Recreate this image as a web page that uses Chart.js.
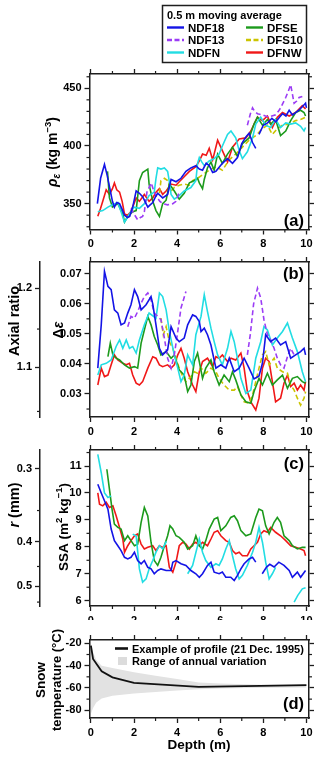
<!DOCTYPE html>
<html>
<head>
<meta charset="utf-8">
<script src="https://cdn.jsdelivr.net/npm/chart.js@4.4.1/dist/chart.umd.min.js"></script>
<style>
  html, body { margin: 0; padding: 0; background: #fff; }
  #wrap { position: relative; width: 320px; height: 757px; overflow: hidden; }
  canvas { position: absolute; left: 0; }
</style>
</head>
<body>
<div id="wrap">
  <canvas id="panelA" width="320" height="250" style="top:0px"></canvas>
  <canvas id="panelB" width="320" height="188" style="top:250px"></canvas>
  <canvas id="panelC" width="320" height="182" style="top:438px"></canvas>
  <canvas id="panelD" width="320" height="137" style="top:620px"></canvas>
</div>
<script>
// ---- series ----
const seriesNames = ['NDF18', 'NDF13', 'NDFN', 'DFSE', 'DFS10', 'DFNW'];
const seriesColors = ['#1414e6', '#9b3cf5', '#22dde3', '#1c9a1c', '#cbc400', '#f01818'];
const seriesDashed = [false, true, false, false, true, false];

// ---- depth axis ----
const depthMajor = [0, 2, 4, 6, 8, 10];
const depthMinor = [1, 3, 5, 7, 9];

// ---- (a) density, [depth m, kg m-3] ----
const rhoNDF18 = [[0.3,350],[0.45,372],[0.63,384],[0.75,375],[0.86,365],[1.0,352],[1.09,347],[1.2,351],[1.33,350],[1.45,345],[1.56,340],[1.7,338],[1.8,339],[1.94,347],[2.1,361],[2.25,359],[2.4,356],[2.48,353],[2.64,347],[2.75,349],[2.87,351],[3.0,356],[3.1,359],[3.33,355],[3.56,358],[3.72,371],[3.95,369],[4.18,372],[4.41,378],[4.64,381],[4.87,383],[5.03,380],[5.18,379],[5.35,385],[5.49,383],[5.65,377],[5.8,378],[6.1,385],[6.34,389],[6.57,385],[6.8,390],[7.0,402],[7.2,408],[7.34,411],[7.5,403],[7.65,398],[7.72,null],[7.8,410],[8.0,418],[8.2,420],[8.4,424],[8.58,421],[8.75,425],[8.89,428],[9.05,426],[9.2,431],[9.35,427],[9.5,429],[9.65,431],[9.81,434],[9.96,437],[10.0,433]];
const rhoNDF13 = [[1.86,346],[2.0,341],[2.17,336],[2.3,338],[2.4,339],[2.48,343],[2.6,360],[2.8,368],[2.9,362],[3.02,357],[3.2,352],[3.33,350],[3.56,349],[3.8,350],[3.95,352],[4.1,360],[4.15,null],[7.26,418],[7.4,428],[7.5,433],[7.6,430],[7.73,428],[7.96,427],[8.1,426],[8.27,425],[8.4,426],[8.57,427],[8.7,430],[8.8,433],[9.04,442],[9.15,447],[9.27,453],[9.35,445],[9.43,437],[9.55,439],[9.66,442],[9.81,443]];
const rhoNDFN = [[0.32,343],[0.55,344],[0.79,347],[1.0,349],[1.25,351],[1.4,343],[1.56,334],[1.79,341],[2.0,347],[2.25,346],[2.48,350],[2.7,357],[2.94,360],[3.02,372],[3.1,381],[3.25,380],[3.41,381],[3.56,378],[3.65,368],[3.72,358],[3.87,354],[4.1,357],[4.33,361],[4.64,364],[4.87,370],[4.95,385],[5.03,390],[5.15,386],[5.26,383],[5.49,387],[5.72,389],[5.95,393],[6.1,400],[6.34,410],[6.5,413],[6.72,407],[6.88,396],[7.03,389],[7.26,395],[7.5,407],[7.65,419],[7.88,425],[8.11,418],[8.34,416],[8.57,423],[8.8,416],[9.04,420],[9.27,419],[9.5,420],[9.73,417],[9.89,413],[9.96,416]];
const rhoDFSE = [[0.77,378],[0.86,355],[1.0,347],[1.25,350],[1.48,341],[1.56,334],[1.71,339],[1.94,343],[2.1,344],[2.25,370],[2.4,377],[2.64,380],[2.7,367],[2.87,352],[3.02,344],[3.18,339],[3.33,350],[3.49,353],[3.64,367],[3.87,361],[4.1,354],[4.33,359],[4.57,368],[4.8,370],[4.95,372],[5.03,368],[5.18,363],[5.26,371],[5.41,381],[5.57,386],[5.72,379],[5.88,393],[6.1,385],[6.34,393],[6.57,399],[6.8,391],[7.03,402],[7.34,407],[7.57,419],[7.73,425],[7.96,418],[8.19,423],[8.34,419],[8.57,423],[8.8,409],[9.04,413],[9.27,422],[9.5,429],[9.73,431],[9.89,429],[9.96,426]];
const rhoDFS10 = [[3.18,359],[3.25,370],[3.41,372],[3.56,370],[3.72,361],[3.87,364],[4.1,366],[4.33,367],[4.57,366],[4.72,370],[4.95,372],[5.18,375],[5.49,379],[5.8,382],[6.1,379],[6.42,388],[6.72,393],[7.03,399],[7.34,405],[7.65,409],[7.96,415],[8.19,418],[8.42,410],[8.65,415],[8.89,418],[9.2,419],[9.5,422],[9.73,423],[9.96,425]];
const rhoDFNW = [[0.32,339],[0.45,346],[0.55,352],[0.71,362],[0.86,358],[1.0,363],[1.09,368],[1.2,362],[1.33,360],[1.45,352],[1.56,341],[1.7,340],[1.85,343],[2.0,350],[2.1,355],[2.25,352],[2.48,358],[2.7,352],[2.87,355],[3.02,360],[3.18,363],[3.33,358],[3.49,361],[3.72,367],[3.95,366],[4.1,369],[4.26,372],[4.57,378],[4.87,382],[5.03,387],[5.18,393],[5.35,392],[5.49,398],[5.65,388],[5.88,405],[6.1,396],[6.34,386],[6.57,399],[6.88,406],[7.19,407],[7.42,413],[7.6,420],[7.73,425],[7.96,422],[8.19,426],[8.42,416],[8.65,425],[8.89,429],[9.2,426],[9.5,429],[9.81,435],[9.96,432]];
const rhoMajor = [350, 400, 450];
const rhoMinor = [330, 340, 360, 370, 380, 390, 410, 420, 430, 440, 460];

// ---- (b) anisotropy, [depth m, delta eps] ----
const deNDF18 = [[0.32,0.0386],[0.48,0.053],[0.63,0.0708],[0.79,0.0658],[0.94,0.0647],[1.09,0.058],[1.25,0.0569],[1.4,0.053],[1.56,0.0536],[1.71,0.0569],[1.86,0.0597],[2.02,0.0647],[2.17,0.0624],[2.33,0.058],[2.56,0.0597],[2.79,0.0624],[2.87,0.060],[3.02,0.053],[3.18,0.0452],[3.33,0.043],[3.56,0.0447],[3.72,0.0524],[3.95,0.0486],[4.1,0.0474],[4.33,0.0486],[4.49,0.053],[4.72,0.0563],[4.87,0.0558],[5.03,0.0541],[5.11,0.0508],[5.26,0.0519],[5.41,0.0497],[5.57,0.0463],[5.8,0.0386],[6.03,0.0397],[6.26,0.0386],[6.42,0.0419],[6.65,0.0374],[6.88,0.0386],[7.11,0.0419],[7.34,0.0386],[7.57,0.035],[7.8,0.036],[7.96,0.0402],[8.11,0.0497],[8.34,0.0474],[8.57,0.0486],[8.8,0.0463],[9.04,0.0474],[9.27,0.0419],[9.5,0.043],[9.73,0.0441],[9.89,0.0452],[9.96,0.043]];
const deNDF13 = [[1.71,0.0524],[1.86,0.0558],[2.02,0.0552],[2.17,0.0574],[2.33,0.0602],[2.48,0.0624],[2.64,0.0636],[2.79,0.0613],[2.94,0.0569],[3.1,0.0558],[3.25,0.0547],[3.41,0.0486],[3.56,0.0419],[3.72,0.0386],[3.87,0.043],[4.03,0.0508],[4.18,0.0586],[4.41,0.0641],[4.45,null],[7.26,0.043],[7.4,0.05],[7.55,0.06],[7.73,0.0652],[7.88,0.0619],[8.03,0.0547],[8.19,0.0497],[8.34,0.048],[8.5,0.0452],[8.65,0.0419],[8.8,0.0397],[8.96,0.0386],[9.12,0.0424],[9.27,0.0452],[9.43,0.043]];
const deNDFN = [[0.32,0.0363],[0.48,0.0397],[0.71,0.0402],[0.94,0.0413],[1.17,0.0458],[1.33,0.048],[1.48,0.0452],[1.64,0.048],[1.79,0.0452],[1.94,0.0458],[2.1,0.0436],[2.25,0.048],[2.48,0.053],[2.7,0.0569],[3.02,0.0552],[3.18,0.0636],[3.33,0.0624],[3.49,0.058],[3.64,0.0508],[3.87,0.043],[4.03,0.0386],[4.18,0.0341],[4.33,0.0363],[4.49,0.043],[4.72,0.0397],[4.87,0.0497],[5.11,0.0558],[5.26,0.063],[5.41,0.0574],[5.57,0.0519],[5.72,0.0474],[5.88,0.043],[6.1,0.0397],[6.34,0.0452],[6.5,0.0508],[6.65,0.0474],[6.8,0.0419],[6.96,0.0352],[7.19,0.0302],[7.42,0.0313],[7.65,0.0419],[7.88,0.0474],[8.03,0.0524],[8.19,0.0513],[8.42,0.0463],[8.65,0.0486],[8.89,0.0508],[9.12,0.0536],[9.35,0.0486],[9.58,0.0441],[9.81,0.0374],[9.96,0.0341]];
const deDFSE = [[0.79,0.0424],[0.9,0.0469],[1.02,0.043],[1.17,0.0419],[1.33,0.0413],[1.56,0.0397],[1.79,0.0386],[2.02,0.0391],[2.17,0.0386],[2.33,0.0469],[2.48,0.0513],[2.64,0.0558],[2.79,0.053],[2.94,0.0491],[3.1,0.0463],[3.25,0.043],[3.49,0.0441],[3.72,0.0419],[3.87,0.043],[4.1,0.038],[4.33,0.0363],[4.49,0.0308],[4.64,0.033],[4.8,0.0408],[4.95,0.0436],[5.03,0.0408],[5.18,0.0352],[5.33,0.0386],[5.57,0.0413],[5.72,0.0374],[5.95,0.033],[6.18,0.0363],[6.42,0.0341],[6.57,0.0374],[6.72,0.0347],[6.96,0.0297],[7.19,0.0274],[7.42,0.0269],[7.57,0.0308],[7.8,0.0352],[7.96,0.033],[8.19,0.0369],[8.42,0.033],[8.65,0.0347],[8.89,0.0363],[9.12,0.0319],[9.35,0.0352],[9.58,0.0358],[9.81,0.0341],[9.96,0.0336]];
const deDFS10 = [[3.25,0.0552],[3.36,0.0497],[3.49,0.0524],[3.64,0.0474],[3.8,0.0452],[3.95,0.0419],[4.1,0.0386],[4.26,0.0358],[4.41,0.0341],[4.64,0.0358],[4.8,0.0374],[4.95,0.0369],[5.11,0.0386],[5.33,0.0369],[5.57,0.0386],[5.8,0.0374],[5.95,0.0352],[6.18,0.033],[6.42,0.0313],[6.65,0.0313],[6.8,0.0325],[6.96,0.0297],[7.11,0.0274],[7.34,0.0269],[7.5,0.0297],[7.65,0.0341],[7.8,0.0386],[7.96,0.043],[8.11,0.0441],[8.27,0.0397],[8.5,0.0419],[8.65,0.0386],[8.89,0.0374],[9.12,0.0369],[9.27,0.033],[9.43,0.0313],[9.58,0.0286],[9.73,0.0263],[9.89,0.0286],[9.96,0.0308]];
const deDFNW = [[0.32,0.033],[0.48,0.0386],[0.63,0.0358],[0.79,0.0363],[0.94,0.0397],[1.09,0.043],[1.25,0.0413],[1.48,0.0402],[1.64,0.0397],[1.79,0.0402],[1.94,0.0363],[2.1,0.0336],[2.25,0.033],[2.4,0.0341],[2.64,0.0386],[2.87,0.0424],[3.02,0.0419],[3.18,0.0397],[3.33,0.0391],[3.56,0.0397],[3.72,0.0386],[3.87,0.0397],[4.03,0.043],[4.18,0.0452],[4.33,0.0419],[4.49,0.0374],[4.72,0.033],[4.87,0.0308],[5.03,0.0374],[5.18,0.0408],[5.41,0.0419],[5.65,0.0391],[5.8,0.0424],[5.95,0.0419],[6.1,0.043],[6.34,0.0408],[6.5,0.0419],[6.72,0.0413],[6.96,0.0436],[7.11,0.0386],[7.26,0.0308],[7.42,0.0274],[7.65,0.0247],[7.8,0.0286],[7.96,0.0386],[8.11,0.0419],[8.27,0.0408],[8.42,0.0341],[8.57,0.0274],[8.8,0.0286],[8.96,0.0336],[9.12,0.0363],[9.27,0.0325],[9.43,0.0336],[9.58,0.0313],[9.73,0.033],[9.89,0.0313],[9.96,0.0341]];
const deMajor = [0.03, 0.04, 0.05, 0.06, 0.07];
const deMinor = [0.025, 0.035, 0.045, 0.055, 0.065];
// axial ratio ticks, placed at their delta-eps equivalent
const axialLabels = ['1.2', '1.1'];
const axialAt = [0.0652, 0.0389];
const axialMinorAt = [0.0516, 0.0242];

// ---- (c) SSA, [depth m, m2 kg-1] ----
const ssaNDF18 = [[0.32,10.32],[0.48,10.0],[0.63,9.71],[0.79,9.4],[0.94,8.66],[1.09,8.23],[1.25,8.04],[1.4,7.86],[1.56,7.61],[1.71,7.55],[1.86,7.61],[2.02,7.8],[2.17,7.49],[2.33,7.37],[2.48,7.49],[2.64,7.24],[2.79,7.18],[2.94,7.0],[3.1,7.12],[3.25,7.18],[3.49,7.12],[3.72,7.12],[3.8,7.43],[3.95,7.49],[4.18,7.37],[4.41,7.31],[4.64,7.12],[4.87,7.0],[5.03,6.87],[5.18,7.0],[5.41,7.31],[5.57,7.43],[5.72,7.06],[5.95,7.0],[6.1,7.06],[6.26,6.87],[6.49,6.87],[6.65,6.75],[6.8,6.94],[6.96,7.18],[7.11,7.37],[7.34,7.55],[7.5,7.61],[7.65,7.43],[7.8,null],[7.95,7.0],[8.15,7.25],[8.3,7.35],[8.5,7.25],[8.72,7.43],[8.96,7.31],[9.2,7.12],[9.35,6.87],[9.58,7.06],[9.73,6.87],[9.96,7.12]];
const ssaNDFN = [[0.32,11.43],[0.48,10.75],[0.63,10.0],[0.79,9.83],[0.94,9.89],[1.0,null],[1.94,8.47],[2.1,8.4],[2.25,7.18],[2.4,6.69],[2.56,6.81],[2.7,7.18],[2.87,7.49],[3.02,7.8],[3.18,8.04],[3.33,7.92],[3.5,8.2],[3.55,null],[4.49,7.0],[4.72,7.31],[4.95,8.04],[5.03,8.29],[5.18,7.8],[5.33,7.49],[5.57,7.24],[5.8,7.37],[5.95,7.31],[6.1,7.55],[6.26,7.92],[6.42,8.23],[6.57,7.67],[6.72,7.18],[6.88,6.81],[7.03,6.94],[7.26,7.31],[7.5,7.8],[7.65,8.17],[7.8,8.72],[7.96,8.17],[8.11,7.43],[8.27,6.81],[8.42,7.0],[8.57,7.24],[8.62,null],[9.43,5.95],[9.6,6.2],[9.81,6.44],[9.96,6.48]];
const ssaDFSE = [[0.74,10.88],[0.86,10.14],[0.98,9.4],[1.09,8.84],[1.25,8.72],[1.4,8.66],[1.56,8.23],[1.71,8.41],[1.86,8.23],[2.02,8.04],[2.17,8.1],[2.33,8.91],[2.48,9.46],[2.64,9.15],[2.79,8.17],[2.94,7.49],[3.1,7.31],[3.25,7.61],[3.41,8.04],[3.56,8.41],[3.67,8.78],[3.8,8.66],[3.95,8.41],[4.1,8.35],[4.33,8.17],[4.49,7.92],[4.72,8.04],[4.87,8.41],[5.03,8.04],[5.18,7.92],[5.33,8.23],[5.49,8.66],[5.72,9.03],[5.88,9.09],[6.03,8.6],[6.26,8.78],[6.49,9.09],[6.65,9.15],[6.8,8.97],[6.96,8.6],[7.19,8.41],[7.42,8.48],[7.65,9.09],[7.8,9.4],[7.96,9.34],[8.11,8.78],[8.27,8.48],[8.5,8.91],[8.65,9.09],[8.8,8.91],[8.96,8.41],[9.2,8.23],[9.35,8.04],[9.58,7.92],[9.81,7.98],[9.96,7.98]];
const ssaDFNW = [[0.32,10.0],[0.4,9.58],[0.55,9.52],[0.71,9.65],[0.86,9.46],[1.02,9.52],[1.17,9.15],[1.33,8.72],[1.48,8.29],[1.56,7.8],[1.71,8.04],[1.86,8.23],[2.02,8.41],[2.17,8.48],[2.33,8.1],[2.48,7.92],[2.64,7.98],[2.87,8.04],[3.02,7.86],[3.18,8.04],[3.33,7.98],[3.49,8.04],[3.64,7.24],[3.8,7.06],[3.95,7.43],[4.1,8.04],[4.26,8.17],[4.41,8.1],[4.57,7.92],[4.72,8.1],[4.87,8.17],[5.03,8.04],[5.18,8.17],[5.41,8.04],[5.57,8.29],[5.72,8.54],[5.88,8.6],[6.03,8.41],[6.26,8.23],[6.42,8.17],[6.57,7.86],[6.72,7.74],[6.88,7.8],[7.03,7.67],[7.26,7.67],[7.42,7.92],[7.57,8.04],[7.73,8.17],[7.88,8.48],[8.03,8.6],[8.19,8.54],[8.34,8.72],[8.57,8.54],[8.8,8.41],[9.04,8.23],[9.27,8.04],[9.5,7.98],[9.73,7.92],[9.89,7.86],[9.96,7.67]];
const ssaMajor = [6, 7, 8, 9, 10, 11];
const ssaMinor = [6.5, 7.5, 8.5, 9.5, 10.5, 11.5];
// grain radius ticks, placed at their SSA equivalent (SSA = 3 / (917 r))
const radiusLabels = ['0.3', '0.4', '0.5'];
const radiusAt = [10.905, 8.179, 6.543];
const radiusMinorAt = [9.347, 7.270, 5.948];

// ---- (d) snow temperature ----
const profileDepth = [0, 0.1, 0.5, 1, 2, 5, 10];
const profileTemp = [-22, -34, -45, -50.5, -55.5, -59, -57.5];
const rangeDepth = [0, 0.1, 0.25, 0.5, 1, 2, 3, 4, 5, 6, 8, 10];
const rangeMax = [-20, -28, -35, -40, -42, -46, -49, -52, -55, -56, -57, -57];
const rangeMin = [-83, -78, -73, -69.5, -67, -65, -63.7, -62.3, -61.2, -60.5, -59.8, -59.5];
const tempMajor = [-80, -60, -40, -20];
const tempMinor = [-70, -50, -30];

const FONT = "'Liberation Sans', Arial, sans-serif";
const INK = '#1e1e1e';
const X_MIN = -0.065, X_MAX = 10.12;

function pts(pairs) {
    return pairs.map(p => ({ x: p[0], y: p[1] }));
}

function seriesSets(lists) {
    const sets = [];
    lists.forEach((pairs, i) => {
        if (!pairs) return;
        sets.push({
            label: seriesNames[i],
            data: pts(pairs),
            borderColor: seriesColors[i],
            borderWidth: 1.6,
            borderDash: seriesDashed[i] ? [5, 3] : [],
            pointRadius: 0,
            tension: 0,
            fill: false,
            spanGaps: false
        });
    });
    return sets;
}

// one framed axis: major ticks from Chart.js, fixed size so all panels line up
function axis(pos, min, max, major, size, labelFn, weight) {
    const vertical = pos === 'left' || pos === 'right';
    return {
        type: 'linear', position: pos, min: min, max: max, weight: weight || 0,
        afterBuildTicks: s => { s.ticks = major.map(v => ({ value: v })); },
        afterFit: s => { if (vertical) s.width = size; else s.height = size; },
        border: { display: true, color: INK, width: 1.5 },
        grid: { drawOnChartArea: false, drawTicks: true, tickLength: 5, tickWidth: 1.3, tickColor: INK },
        ticks: {
            display: !!labelFn, padding: 3, color: '#000', autoSkip: false, maxRotation: 0,
            font: { family: FONT, size: 11, weight: 'bold' },
            callback: (v, i) => labelFn ? labelFn(v, i) : ''
        }
    };
}

function font(size, italic) {
    return (italic ? 'italic ' : '') + 'bold ' + size + 'px ' + FONT;
}

// text made of runs (sub/superscripts), optionally rotated to read bottom-up
function richText(ctx, parts, x, y, rotated, align) {
    ctx.save();
    ctx.translate(x, y);
    if (rotated) ctx.rotate(-Math.PI / 2);
    let total = 0;
    parts.forEach(p => { ctx.font = font(p.s, p.i); p.w = ctx.measureText(p.t).width; total += p.w; });
    let cx = align === 'center' ? -total / 2 : (align === 'right' ? -total : 0);
    ctx.fillStyle = '#000';
    ctx.textBaseline = 'alphabetic';
    ctx.textAlign = 'left';
    parts.forEach(p => { ctx.font = font(p.s, p.i); ctx.fillText(p.t, cx, p.dy || 0); cx += p.w; });
    ctx.restore();
}

function extras(minor, draw) {
    return {
        id: 'panelExtras',
        afterDraw(chart) {
            const ctx = chart.ctx;
            ctx.save();
            ctx.strokeStyle = INK;
            ctx.lineWidth = 1.2;
            Object.keys(minor).forEach(id => {
                const s = chart.scales[id];
                const pos = s.options.position;
                minor[id].forEach(v => {
                    const p = s.getPixelForValue(v);
                    ctx.beginPath();
                    if (pos === 'left') { ctx.moveTo(s.right, p); ctx.lineTo(s.right - 3, p); }
                    else if (pos === 'right') { ctx.moveTo(s.left, p); ctx.lineTo(s.left + 3, p); }
                    else if (pos === 'top') { ctx.moveTo(p, s.bottom); ctx.lineTo(p, s.bottom - 3); }
                    else { ctx.moveTo(p, s.top); ctx.lineTo(p, s.top + 3); }
                    ctx.stroke();
                });
            });
            ctx.restore();
            draw(chart, ctx);
        }
    };
}

function makeChart(id, datasets, scales, padTop, plugin) {
    return new Chart(document.getElementById(id), {
        type: 'line',
        data: { datasets: datasets },
        options: {
            responsive: false,
            animation: false,
            devicePixelRatio: 1,
            layout: { padding: { top: padTop, left: 0, right: 0, bottom: 0 } },
            plugins: { legend: { display: false }, tooltip: { enabled: false } },
            scales: scales
        },
        plugins: [plugin]
    });
}

function panelLetter(ctx, text, x, y) {
    ctx.save();
    ctx.font = font(16.5);
    ctx.fillStyle = '#000';
    ctx.textAlign = 'right';
    ctx.fillText(text, x, y);
    ctx.restore();
}

const numLabel = v => String(v);

// (a) density
makeChart('panelA',
    seriesSets([rhoNDF18, rhoNDF13, rhoNDFN, rhoDFSE, rhoDFS10, rhoDFNW]),
    {
        x: axis('bottom', X_MIN, X_MAX, depthMajor, 20.5, numLabel),
        xTop: axis('top', X_MIN, X_MAX, depthMajor, 6, null),
        y: axis('left', 327.6, 462.4, rhoMajor, 89.5, numLabel),
        yRight: axis('right', 327.6, 462.4, rhoMajor, 11, null)
    },
    68,
    extras({ x: depthMinor, xTop: depthMinor, y: rhoMinor, yRight: rhoMinor }, (chart, ctx) => {
        richText(ctx, [
            { t: 'ρ', s: 14, i: true }, { t: 'ε', s: 10, i: true, dy: 3 },
            { t: ' (kg m', s: 14 }, { t: '−3', s: 9.5, dy: -6 }, { t: ')', s: 14 }
        ], 57, 152, true, 'center');
        panelLetter(ctx, '(a)', 304, 226);

        // legend box
        ctx.save();
        ctx.strokeStyle = INK;
        ctx.lineWidth = 1.5;
        ctx.strokeRect(162.5, 5.5, 144, 57);
        ctx.fillStyle = '#000';
        ctx.font = font(11);
        ctx.textBaseline = 'alphabetic';
        ctx.fillText('0.5 m moving average', 167, 18.5);
        const colLine = [167, 246], colText = [188, 267];
        const rowLine = [27.5, 40, 52.5], rowText = [31.5, 44, 56.5];
        seriesNames.forEach((name, i) => {
            const c = Math.floor(i / 3), r = i % 3;
            ctx.strokeStyle = seriesColors[i];
            ctx.lineWidth = 2.4;
            ctx.setLineDash(seriesDashed[i] ? [5, 2.5] : []);
            ctx.beginPath();
            ctx.moveTo(colLine[c], rowLine[r]);
            ctx.lineTo(colLine[c] + 17, rowLine[r]);
            ctx.stroke();
            ctx.setLineDash([]);
            ctx.font = font(11.5);
            ctx.fillText(name, colText[c], rowText[r]);
        });
        ctx.restore();
    })
);

// (b) anisotropy with axial ratio axis
makeChart('panelB',
    seriesSets([deNDF18, deNDF13, deNDFN, deDFSE, deDFS10, deDFNW]),
    {
        x: axis('bottom', X_MIN, X_MAX, depthMajor, 21, numLabel),
        xTop: axis('top', X_MIN, X_MAX, depthMajor, 6, null),
        y: axis('left', 0.02235, 0.0739, deMajor, 49.5, v => v.toFixed(2)),
        yAxial: axis('left', 0.02235, 0.0739, axialAt, 40, (v, i) => axialLabels[i], 1),
        yRight: axis('right', 0.02235, 0.0739, deMajor, 11, null)
    },
    6,
    extras({ x: depthMinor, xTop: depthMinor, y: deMinor, yAxial: axialMinorAt, yRight: deMinor }, (chart, ctx) => {
        richText(ctx, [{ t: 'Δ', s: 14 }, { t: 'ε', s: 14, i: true }], 63, 80, true, 'center');
        richText(ctx, [{ t: 'Axial ratio', s: 14.5 }], 18.5, 71, true, 'center');
        panelLetter(ctx, '(b)', 304, 29);
    })
);

// (c) specific surface area with grain radius axis
makeChart('panelC',
    seriesSets([ssaNDF18, null, ssaNDFN, ssaDFSE, null, ssaDFNW]),
    {
        x: axis('bottom', X_MIN, X_MAX, depthMajor, 14, numLabel),
        xTop: axis('top', X_MIN, X_MAX, depthMajor, 6, null),
        y: axis('left', 5.803, 11.594, ssaMajor, 49.5, numLabel),
        yRadius: axis('left', 5.803, 11.594, radiusAt, 40, (v, i) => radiusLabels[i], 1),
        yRight: axis('right', 5.803, 11.594, ssaMajor, 11, null)
    },
    6,
    extras({ x: depthMinor, xTop: depthMinor, y: ssaMinor, yRadius: radiusMinorAt, yRight: ssaMinor }, (chart, ctx) => {
        richText(ctx, [
            { t: 'SSA (m', s: 13.5 }, { t: '2', s: 9.5, dy: -6 },
            { t: ' kg', s: 13.5 }, { t: '−1', s: 9.5, dy: -6 }, { t: ')', s: 13.5 }
        ], 68, 89, true, 'center');
        richText(ctx, [{ t: 'r', s: 14.5, i: true }, { t: ' (mm)', s: 14.5 }], 18.5, 67, true, 'center');
        panelLetter(ctx, '(c)', 304, 31);
    })
);

// (d) snow temperature
const tempSets = [
    {
        label: 'Example of profile (21 Dec. 1995)',
        data: profileDepth.map((d, i) => ({ x: d, y: profileTemp[i] })),
        borderColor: '#111', borderWidth: 1.8, pointRadius: 0, tension: 0, fill: false
    },
    {
        label: 'min',
        data: rangeDepth.map((d, i) => ({ x: d, y: rangeMin[i] })),
        borderWidth: 0, borderColor: 'rgba(0,0,0,0)', pointRadius: 0, tension: 0, fill: false
    },
    {
        label: 'Range of annual variation',
        data: rangeDepth.map((d, i) => ({ x: d, y: rangeMax[i] })),
        borderWidth: 0, borderColor: 'rgba(0,0,0,0)', pointRadius: 0, tension: 0,
        fill: '-1', backgroundColor: '#e2e2e2'
    }
];

makeChart('panelD', tempSets,
    {
        x: axis('bottom', X_MIN, X_MAX, depthMajor, 39, numLabel),
        xTop: axis('top', X_MIN, X_MAX, depthMajor, 6, null),
        y: axis('left', -86.9, -17, tempMajor, 89.5, numLabel),
        yRight: axis('right', -86.9, -17, tempMajor, 11, null)
    },
    14,
    extras({ x: depthMinor, xTop: depthMinor, y: tempMinor, yRight: tempMinor }, (chart, ctx) => {
        richText(ctx, [{ t: 'Snow', s: 13.5 }], 45, 60, true, 'center');
        richText(ctx, [{ t: 'temperature (°C)', s: 13 }], 61, 60, true, 'center');
        richText(ctx, [{ t: 'Depth (m)', s: 13.5 }], 199, 129, false, 'center');
        panelLetter(ctx, '(d)', 304, 89);

        ctx.save();
        ctx.strokeStyle = '#111';
        ctx.lineWidth = 2.6;
        ctx.beginPath();
        ctx.moveTo(115, 28.5);
        ctx.lineTo(128, 28.5);
        ctx.stroke();
        ctx.fillStyle = '#dcdcdc';
        ctx.fillRect(118, 37, 9, 8);
        ctx.fillStyle = '#000';
        ctx.font = font(11);
        ctx.fillText(tempSets[0].label, 132, 32.5);
        ctx.fillText(tempSets[2].label, 132, 44.5);
        ctx.restore();
    })
);
</script>
</body>
</html>
